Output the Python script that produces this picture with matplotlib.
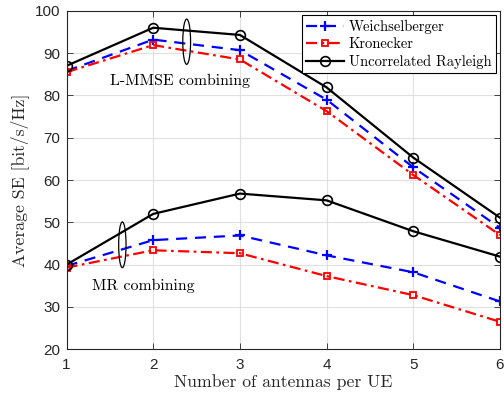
import matplotlib
matplotlib.use("Agg")
import matplotlib.pyplot as plt
from matplotlib.patches import Ellipse

antennas = [1, 2, 3, 4, 5, 6]
lmmse_weich = [85.8, 93.2, 90.7, 79.0, 63.0, 48.7]
lmmse_kron = [85.5, 91.9, 88.5, 76.3, 61.2, 47.0]
lmmse_unc = [87.0, 96.0, 94.3, 81.9, 65.3, 51.1]
mr_weich = [39.7, 45.8, 46.9, 42.2, 38.2, 31.3]
mr_kron = [39.3, 43.4, 42.7, 37.3, 32.8, 26.5]
mr_unc = [40.0, 52.0, 56.8, 55.2, 47.9, 41.9]

xticks = [1, 2, 3, 4, 5, 6]
yticks = [20, 30, 40, 50, 60, 70, 80, 90, 100]
labels = ["Weichselberger", "Kronecker", "Uncorrelated Rayleigh"]

serif = "cmr10"
tickfont = "Liberation Sans"

fig = plt.figure(figsize=(5.04, 4.01), dpi=100)
ax = fig.add_axes([0.132, 0.129, 0.860, 0.844])

wkw = dict(color="#0000ff", ls=(0, (5, 3.5)), lw=1.6, marker="+", ms=7, mew=1.6)
kkw = dict(color="#ff0000", ls=(0, (5, 2, 1.2, 2)), lw=1.6, marker="s", ms=5, mfc="none", mew=1.3)
ukw = dict(color="black", ls="-", lw=1.6, marker="o", ms=7, mfc="none", mew=1.2)

ax.plot(antennas, lmmse_weich, label=labels[0], **wkw)
ax.plot(antennas, lmmse_kron, label=labels[1], **kkw)
ax.plot(antennas, lmmse_unc, label=labels[2], **ukw)
ax.plot(antennas, mr_weich, **wkw)
ax.plot(antennas, mr_kron, **kkw)
ax.plot(antennas, mr_unc, **ukw)

ax.add_patch(Ellipse((2.386, 92.7), 0.09, 10.7, fill=False, ec="black", lw=0.9, zorder=5))
ax.add_patch(Ellipse((1.644, 44.7), 0.085, 10.8, fill=False, ec="black", lw=0.9, zorder=5))

ax.text(1.50, 83.5, "L-MMSE combining", family=serif, fontsize=11.4, va="center", ha="left")
ax.text(1.294, 35.0, "MR combining", family=serif, fontsize=11.4, va="center", ha="left")

ax.set_xlim(1, 6)
ax.set_ylim(20, 100)
ax.set_xticks(xticks)
ax.set_yticks(yticks)
ax.set_xticklabels([str(v) for v in xticks], family=tickfont, fontsize=11, color="#262626")
ax.set_yticklabels([str(v) for v in yticks], family=tickfont, fontsize=11, color="#262626")
ax.tick_params(direction="in", length=4, width=0.6, top=True, right=True, colors="#262626")
ax.tick_params(axis="x", pad=6.5)
ax.tick_params(axis="y", pad=4.5)
ax.grid(True, color="#e0e0e0", lw=0.8)
ax.set_axisbelow(True)
for s in ax.spines.values():
    s.set_linewidth(0.8)
    s.set_color("#262626")

ax.set_xlabel("Number of antennas per UE", family=serif, fontsize=12.7, color="#262626", labelpad=1)
ax.set_ylabel("Average SE [bit/s/Hz]", family=serif, fontsize=12.7, color="#262626", labelpad=4)

leg = ax.legend(loc="upper right", prop={"family": serif, "size": 10.5}, fancybox=False,
                edgecolor="black", framealpha=1, borderpad=0.3, labelspacing=0.25,
                handlelength=2.6, handletextpad=0.3, borderaxespad=0.3)
leg.get_frame().set_linewidth(0.8)

fig.savefig("out.png", dpi=100)
